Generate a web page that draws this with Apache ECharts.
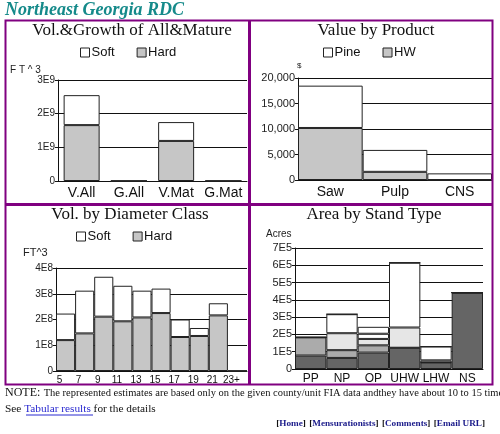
<!DOCTYPE html>
<html>
<head>
<meta charset="utf-8">
<script src="https://cdn.jsdelivr.net/npm/echarts@6/dist/echarts.min.js"></script>
<style>
  html, body { margin: 0; padding: 0; background: #fff; }
  #chart { width: 500px; height: 434px; }
</style>
</head>
<body>
<div id="chart"></div>
<script>
// Vol.&Growth of All&Mature
var volCats = ["V.All", "G.All", "V.Mat", "G.Mat"];
var volHard = [1.66e9, 0, 1.19e9, 0];
var volSoft = [0.89e9, 0, 0.56e9, 0];

// Value by Product
var prodCats = ["Saw", "Pulp", "CNS"];
var prodHW = [10200, 1600, 0];
var prodPine = [8300, 4300, 1300];

// Vol. by Diameter Class
var diaCats = ["5", "7", "9", "11", "13", "15", "17", "19", "21", "23+"];
var diaHard = [1.20e8, 1.46e8, 2.11e8, 1.93e8, 2.08e8, 2.25e8, 1.32e8, 1.36e8, 2.16e8, 0];
var diaSoft = [1.03e8, 1.66e8, 1.55e8, 1.38e8, 1.04e8, 0.95e8, 0.68e8, 0.31e8, 0.47e8, 0];

// Area by Stand Type (five stacked layers, dark to white)
var standCats = ["PP", "NP", "OP", "UHW", "LHW", "NS"];
var standDark = [0.78e5, 0.64e5, 0.95e5, 1.23e5, 0.38e5, 4.42e5];
var standMid = [1.05e5, 0.45e5, 0.42e5, 0, 0, 0];
var standLight = [0, 0.98e5, 0.37e5, 1.17e5, 0.12e5, 0];
var standWhite = [0, 1.10e5, 0.30e5, 3.75e5, 0.80e5, 0];
var standWhite2 = [0, 0, 0.40e5, 0, 0, 0];

var SANS = "Arial, 'Liberation Sans', sans-serif";
var SERIF = "'Times New Roman', 'Liberation Serif', serif";
var PURPLE = "#800080";

var chart = echarts.init(document.getElementById("chart"));

function xAxisFor(gridIndex, cats, fontSize, extra) {
  var ax = {
    type: "category",
    gridIndex: gridIndex,
    data: cats,
    axisLine: { show: true, lineStyle: { color: "#111", width: 1 } },
    axisTick: { show: false },
    axisLabel: { fontSize: fontSize, fontFamily: SANS, color: "#111", margin: 5, interval: 0 },
  };
  if (extra) {
    for (var k in extra) ax.axisLabel[k] = extra[k];
  }
  return ax;
}

function yAxisFor(gridIndex, max, interval, formatter, fontSize) {
  return {
    type: "value",
    gridIndex: gridIndex,
    min: 0,
    max: max,
    interval: interval,
    axisLine: { show: true, lineStyle: { color: "#111", width: 1 } },
    axisTick: { show: true, length: 3, lineStyle: { color: "#111" } },
    axisLabel: { fontSize: fontSize, fontFamily: SANS, color: "#222", margin: 3, formatter: formatter },
    splitLine: { show: true, lineStyle: { color: "#111", width: 1 } },
  };
}

function barSeries(name, data, xi, stack, color, extra) {
  var s = {
    name: name,
    type: "bar",
    xAxisIndex: xi,
    yAxisIndex: xi,
    stack: stack,
    data: data,
    itemStyle: { color: color, borderColor: "#222", borderWidth: 1 },
    emphasis: { disabled: true },
  };
  if (extra) {
    for (var k in extra) s[k] = extra[k];
  }
  return s;
}

function titleText(x, y, text) {
  return {
    type: "text",
    x: x,
    y: y,
    style: {
      text: text,
      fontSize: 17,
      fontFamily: SERIF,
      fill: "#111",
      align: "center",
      verticalAlign: "middle",
    },
  };
}

function smallText(x, y, text, size) {
  return {
    type: "text",
    x: x,
    y: y,
    style: {
      text: text,
      fontSize: size,
      fontFamily: SANS,
      fill: "#222",
      align: "left",
      verticalAlign: "middle",
    },
  };
}

var legendBase = {
  orient: "horizontal",
  icon: "rect",
  itemWidth: 9,
  itemHeight: 9,
  itemGap: 22,
  padding: 0,
  selectedMode: false,
  itemStyle: { borderWidth: 1, borderColor: "#222" },
  textStyle: { fontSize: 13, fontFamily: SANS, color: "#111", padding: [0, 0, 0, -3] },
};

function legendAt(left, top, names) {
  var l = { left: left, top: top, data: names };
  for (var k in legendBase) l[k] = legendBase[k];
  return l;
}

var option = {
  animation: false,
  backgroundColor: "#fff",
  grid: [
    { left: 58, top: 80, width: 189, height: 101 },
    { left: 298, top: 78, width: 194, height: 102 },
    { left: 56, top: 268, width: 191, height: 103 },
    { left: 295, top: 248, width: 188, height: 121 },
  ],
  legend: [
    legendAt(80, 46, ["Soft", "Hard"]),
    legendAt(323, 46, ["Pine", "HW"]),
    legendAt(76, 230, ["Soft", "Hard"]),
  ],
  xAxis: [
    xAxisFor(0, volCats, 14),
    xAxisFor(1, prodCats, 14),
    xAxisFor(2, diaCats, 10, { padding: [0, 12, 0, 0], margin: 4 }),
    xAxisFor(3, standCats, 12, { margin: 4 }),
  ],
  yAxis: [
    yAxisFor(0, 3e9, 1e9, function (v) { return v === 0 ? "0" : Math.round(v / 1e9) + "E9"; }, 10),
    yAxisFor(1, 20000, 5000, function (v) { return v.toLocaleString("en-US"); }, 11),
    yAxisFor(2, 4e8, 1e8, function (v) { return v === 0 ? "0" : Math.round(v / 1e8) + "E8"; }, 10),
    yAxisFor(3, 7e5, 1e5, function (v) { return v === 0 ? "0" : Math.round(v / 1e5) + "E5"; }, 11),
  ],
  series: [
    barSeries("Hard", volHard, 0, "vol", "#c6c6c6", { barWidth: 36 }),
    barSeries("Soft", volSoft, 0, "vol", "#ffffff", { barWidth: 36 }),

    barSeries("HW", prodHW, 1, "prod", "#c6c6c6", { barCategoryGap: "0%" }),
    barSeries("Pine", prodPine, 1, "prod", "#ffffff", { barCategoryGap: "0%" }),

    barSeries("Hard", diaHard, 2, "dia", "#c6c6c6", { barCategoryGap: "0%" }),
    barSeries("Soft", diaSoft, 2, "dia", "#ffffff", { barCategoryGap: "0%" }),

    barSeries("Layer 1", standDark, 3, "stand", "#656565", { barCategoryGap: "0%" }),
    barSeries("Layer 2", standMid, 3, "stand", "#ababab", { barCategoryGap: "0%" }),
    barSeries("Layer 3", standLight, 3, "stand", "#e6e6e6", { barCategoryGap: "0%" }),
    barSeries("Layer 4", standWhite, 3, "stand", "#ffffff", { barCategoryGap: "0%" }),
    barSeries("Layer 5", standWhite2, 3, "stand", "#ffffff", { barCategoryGap: "0%" }),
  ],
  graphic: {
    elements: [
      // page heading
      {
        type: "text",
        x: 5,
        y: 10,
        style: {
          text: "Northeast Georgia RDC",
          fontSize: 18,
          fontStyle: "italic",
          fontWeight: "bold",
          fontFamily: SERIF,
          fill: "#158a8a",
          align: "left",
          verticalAlign: "middle",
        },
      },
      // panel frames
      {
        type: "rect",
        shape: { x: 5.5, y: 20.5, width: 487, height: 364 },
        style: { fill: null, stroke: PURPLE, lineWidth: 2 },
        z: 10,
      },
      {
        type: "line",
        shape: { x1: 249.5, y1: 20, x2: 249.5, y2: 385 },
        style: { stroke: PURPLE, lineWidth: 3 },
        z: 10,
      },
      {
        type: "line",
        shape: { x1: 5, y1: 204.5, x2: 493, y2: 204.5 },
        style: { stroke: PURPLE, lineWidth: 3 },
        z: 10,
      },
      // panel titles
      titleText(132, 31, "Vol.&Growth of All&Mature"),
      titleText(376, 31, "Value by Product"),
      titleText(130, 215, "Vol. by Diameter Class"),
      titleText(374, 215, "Area by Stand Type"),
      // axis units
      smallText(10, 70, "F T ^ 3", 10),
      smallText(297, 66, "$", 8),
      smallText(23, 253, "FT^3", 11),
      smallText(266, 234, "Acres", 10),
      // notes under the charts
      {
        type: "text",
        x: 5,
        y: 393,
        style: {
          text: "{a|NOTE:} {b|The represented estimates are based only on the given county/unit FIA data andthey have about 10 to 15 times error}",
          rich: {
            a: { fontSize: 12, fontFamily: SERIF, fill: "#111" },
            b: { fontSize: 10.5, fontFamily: SERIF, fill: "#111" },
          },
          verticalAlign: "middle",
        },
      },
      {
        type: "text",
        x: 5,
        y: 409,
        style: {
          text: "{b|See }{l|Tabular results}{b| for the details}",
          rich: {
            b: { fontSize: 11.3, fontFamily: SERIF, fill: "#111" },
            l: { fontSize: 11.3, fontFamily: SERIF, fill: "#2a2ad0" },
          },
          verticalAlign: "middle",
        },
      },
      {
        type: "line",
        shape: { x1: 26, y1: 415, x2: 93, y2: 415 },
        style: { stroke: "#2a2ad0", lineWidth: 1 },
      },
      {
        type: "text",
        x: 485,
        y: 424,
        style: {
          text: "{k|[}{l|Home}{k|]} {k|[}{l|Mensurationists}{k|]} {k|[}{l|Comments}{k|]} {k|[}{l|Email URL}{k|]}",
          rich: {
            k: { fontSize: 9.2, fontWeight: "bold", fontFamily: SERIF, fill: "#111" },
            l: { fontSize: 9.2, fontWeight: "bold", fontFamily: SERIF, fill: "#1a1a8a" },
          },
          align: "right",
          verticalAlign: "middle",
        },
      },
    ],
  },
};

chart.setOption(option);
</script>
</body>
</html>
